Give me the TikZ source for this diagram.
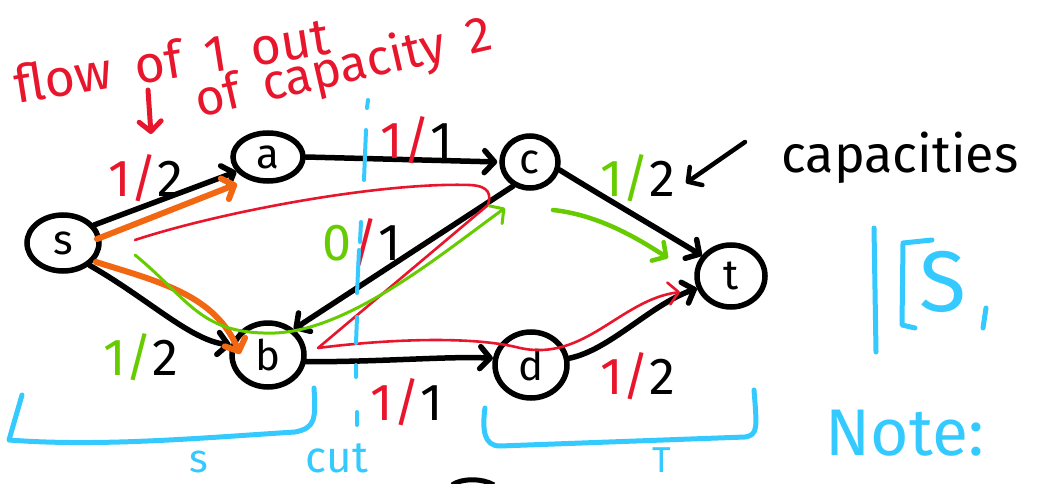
\documentclass[tikz,border=0pt]{standalone}
\usepackage{fontspec}
\setmainfont{Fira Sans}
\usetikzlibrary{arrows.meta,shapes.geometric}
\definecolor{inkred}{RGB}{232,22,44}
\definecolor{inkgreen}{RGB}{102,204,0}
\definecolor{inkorange}{RGB}{242,104,18}
\definecolor{inkblue}{RGB}{52,202,255}
\newcommand{\penfont}[1]{\fontsize{#1}{#1}\selectfont}
\newcommand{\wgap}{\hspace{0.45em}}
\tikzset{
  vertex/.style={draw, ellipse, line width=5.5pt, inner sep=0pt, font=\penfont{42}},
  barb/.style={-{Straight Barb[length=10pt,width=22pt,round]}},
  edge/.style={barb, line width=5.5pt, line cap=round, line join=round},
  flowpen/.style={barb, line cap=round, line join=round},
  bluepen/.style={draw=inkblue, line width=5pt, line cap=round, line join=round},
  elabel/.style={font=\penfont{52}, inner sep=0pt},
  bluetext/.style={text=inkblue, anchor=base, inner sep=1pt, text depth=0pt},
}
\begin{document}
\begin{tikzpicture}[x=1pt,y=-1pt]
\useasboundingbox (0,0) rectangle (1038,484);

% vertices
\node[vertex, minimum width=72pt, minimum height=56pt] (s) at (63,243) {s};
\node[vertex, minimum width=70pt, minimum height=48pt] (a) at (268,157) {a};
\node[vertex, minimum width=56pt, minimum height=52pt] (c) at (530,162) {c};
\node[vertex, minimum width=72pt, minimum height=64pt] (b) at (268,355) {b};
\node[vertex, minimum width=72pt, minimum height=66pt] (d) at (531,365) {d};
\node[vertex, minimum width=68pt, minimum height=62pt] (t) at (731,276) {t};

% capacity edges
\draw[edge] (s.30) -- (a.205);
\draw[edge, shorten >=2pt] (a.east) -- (c.west);
\draw[edge] (c.-15) .. controls (600,195) and (660,230) .. (t.145);
\draw[edge] (s.-40) .. controls (150,300) and (190,340) .. (b.165);
\draw[edge] (c.235) -- (b.45);
\draw[edge] (b.-10) .. controls (380,362) and (450,356) .. (d.170);
\draw[edge] (d.10) .. controls (610,350) and (650,305) .. (t.200);

% flow along s-a and s-b
\coordinate (oa) at (97,239);
\coordinate (ob) at (96,262);
\draw[flowpen, draw=inkorange, line width=6pt] (oa) -- (237,184);
\draw[flowpen, draw=inkorange, line width=6pt] (ob) .. controls (160,282) and (215,295) .. (240,354);

% augmenting paths
\draw[flowpen, draw=inkred, line width=2.6pt]
  (135,240) .. controls (220,212) and (380,182) .. (470,185)
  .. controls (490,186) and (491,195) .. (488,205)
  -- (318,348)
  .. controls (380,340) and (470,335) .. (520,348)
  .. controls (585,362) and (620,300) .. (680,292);
\draw[flowpen, draw=inkgreen, line width=3pt]
  (135,255) .. controls (190,300) and (200,335) .. (275,333)
  .. controls (350,330) and (440,255) .. (505,208);
\draw[flowpen, draw=inkgreen, line width=4.5pt]
  (553,210) .. controls (600,215) and (640,240) .. (668,258);

% flow / capacity labels
\node[elabel] (lsa) at (146,178) {\color{inkred}1/\color{black}2};
\node[elabel] (lac) at (417,140) {\color{inkred}1/\color{black}1};
\node[elabel] (lct) at (638,178) {\color{inkgreen}1/\color{black}2};
\node[elabel] (lcb) at (362,242) {\color{inkgreen}0\color{inkred}/\color{black}1};
\node[elabel] (lsb) at (141,357) {\color{inkgreen}1/\color{black}2};
\node[elabel] (lbd) at (407,402) {\color{inkred}1/\color{black}1};
\node[elabel] (ldt) at (638,376) {\color{inkred}1/\color{black}2};

% cut line
\draw[bluepen, line width=4pt]
  (368,100)--(367,108) (366,130)--(364,180) (361,222)--(360,242)
  (359,250)--(357,293) (357,317)--(356,343) (356,365)--(356,377)
  (357,412)--(357,425);

% S and T brackets
\draw[bluepen] (22,395) -- (9,440) .. controls (100,447) and (200,438) .. (295,432)
  .. controls (315,428) and (316,420) .. (314,388);
\draw[bluepen] (485,408) .. controls (482,430) and (484,446) .. (500,446)
  -- (745,437) .. controls (758,435) and (757,428) .. (754,390);
\node[bluetext, font=\penfont{40}] (lS) at (199,472) {s};
\node[bluetext, font=\penfont{44}] (lcut) at (337,472) {cut};
\node[bluetext, font=\penfont{36}] (lT) at (662,472) {T};

% red annotation
\node[text=inkred, font=\penfont{52}, rotate=9, anchor=base west] (n1) at (14,104)
  {flow\wgap of\wgap 1\wgap out};
\node[text=inkred, font=\penfont{50}, rotate=13, anchor=base west] (n2) at (196,118)
  {of\wgap capacity\wgap 2};
\coordinate (n1a) at (148,90);
\draw[flowpen, draw=inkred, line width=5pt] (n1a) -- (151,134);

% capacities note
\node[font=\penfont{52}, anchor=base west] (cap) at (778,172) {capacities};
\coordinate (capA) at (745,142);
\draw[edge, line width=4.5pt] (capA) -- (686,183);

% right margin notes
\draw[bluepen] (874,228) -- (876,352);
\draw[bluepen] (932,240) -- (903,243) -- (902,325) -- (915,328);
\node[text=inkblue, font=\penfont{86}, anchor=base west] (bigS) at (916,311) {S};
\draw[bluepen] (986,308) -- (983,328);
\node[text=inkblue, font=\penfont{66}, anchor=base west] (note) at (822,455) {Note:};

% edge of a shape below
\draw[line width=5pt] (452,485) .. controls (462,478) and (482,478) .. (494,485);
\end{tikzpicture}
\end{document}
